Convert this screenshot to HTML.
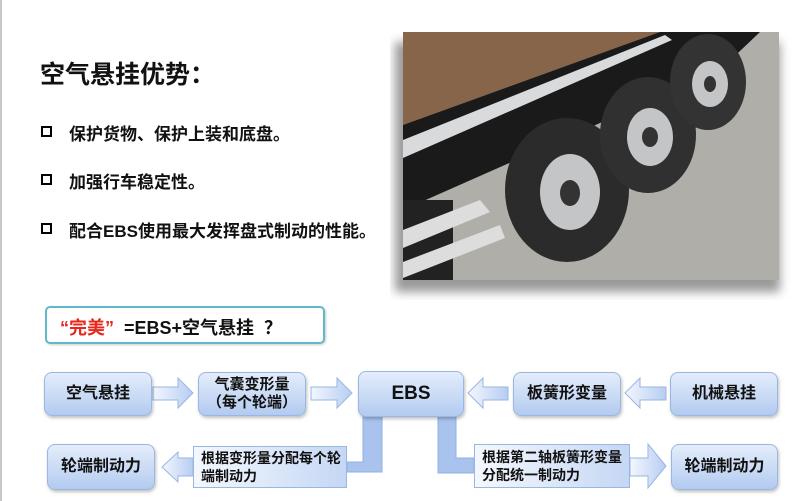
<!DOCTYPE html>
<html><head><meta charset="utf-8"><style>
body{margin:0;width:800px;height:501px;background:#fff;position:relative;overflow:hidden;font-family:"Liberation Sans","Noto Sans CJK SC",sans-serif;}
.a{position:absolute;}
.bx{position:absolute;border:1px solid #9ab6e2;border-radius:8px;background:linear-gradient(#e4edfb,#b3cbf0);box-shadow:1px 2px 3px rgba(0,0,0,.25);display:flex;align-items:center;justify-content:center;text-align:center;font-weight:bold;color:#111;font-size:16px;line-height:18px;box-sizing:border-box;}
.t{position:absolute;font-weight:bold;color:#111;white-space:nowrap;}
.sq{position:absolute;width:11px;height:11px;border:2px solid #000;box-sizing:border-box;}
</style></head><body>
<div class="a" style="left:0;top:0;width:2px;height:501px;background:#c8c8c8"></div>
<div class="t" style="left:40px;top:55px;font-size:25px">空气悬挂优势：</div>
<div class="sq" style="left:41px;top:126px"></div><div class="t" style="left:69px;top:120px;font-size:17px">保护货物、保护上装和底盘。</div>
<div class="sq" style="left:41px;top:174px"></div><div class="t" style="left:69px;top:168px;font-size:17px">加强行车稳定性。</div>
<div class="sq" style="left:41px;top:223px"></div><div class="t" style="left:69px;top:217px;font-size:17px">配合EBS使用最大发挥盘式制动的性能。</div>

<svg class="a" style="left:390px;top:20px" width="405" height="280" viewBox="390 20 405 280">
<defs><filter id="f"><feGaussianBlur stdDeviation="5"/></filter>
<clipPath id="c"><rect x="403" y="32" width="376" height="248"/></clipPath></defs>
<rect x="395" y="42" width="385" height="250" fill="#999" filter="url(#f)"/>
<g clip-path="url(#c)">
<rect x="403" y="32" width="376" height="248" fill="#b0aea9"/>
<polygon points="403,32 660,32 403,125" fill="#86654a"/>
<polygon points="403,125 660,32 760,32 720,70 403,210" fill="#1a1a1a"/>
<polygon points="403,140 665,35 672,40 403,158" fill="#d8dadc"/>
<rect x="403" y="200" width="50" height="80" fill="#222"/>
<polygon points="403,230 480,200 490,212 403,248" fill="#ddd"/>
<polygon points="403,262 500,225 505,238 403,278" fill="#ddd"/>
<ellipse cx="567" cy="190" rx="62" ry="72" fill="#2b2b2b"/><ellipse cx="570" cy="192" rx="30" ry="38" fill="#c3c5c7"/><ellipse cx="570" cy="193" rx="10" ry="13" fill="#333"/>
<ellipse cx="648" cy="135" rx="48" ry="58" fill="#303030"/><ellipse cx="650" cy="137" rx="23" ry="29" fill="#c3c5c7"/><ellipse cx="650" cy="137" rx="8" ry="10" fill="#333"/>
<ellipse cx="708" cy="82" rx="38" ry="48" fill="#333"/><ellipse cx="710" cy="84" rx="18" ry="23" fill="#c3c5c7"/><ellipse cx="710" cy="84" rx="6" ry="8" fill="#333"/>
</g></svg>

<div class="a" style="left:45px;top:306px;width:280px;height:38px;border:2px solid #5fb9c9;border-radius:5px;box-sizing:border-box;box-shadow:1px 1px 2px rgba(0,0,0,.2)"></div>
<div class="t" style="left:60px;top:314px;font-size:18px"><span style="color:#e8261c">“完美”</span>&nbsp;&nbsp;=EBS+空气悬挂&nbsp;&nbsp;？</div>

<svg class="a" style="left:0;top:0" width="800" height="501">
<defs><linearGradient id="gl" x1="0" y1="0" x2="1" y2="0"><stop offset="0" stop-color="#f3f7fe"/><stop offset="1" stop-color="#b6cdf2"/></linearGradient></defs>
<g fill="url(#gl)" stroke="#9ab6e2" stroke-width="1">
<polygon points="153,387 178,387 178,378 193,393 178,408 178,400 153,400"/>
<polygon points="311,387 337,387 337,378 352,393 337,408 337,400 311,400"/>
<polygon points="508,387 483,387 483,378 468,393 483,408 483,400 508,400"/>
<polygon points="666,387 640,387 640,378 625,393 640,408 640,400 666,400"/>
<polygon points="193,458 178,458 178,452 162,467 178,482 178,476 193,476"/>
<polygon points="630,458 648,458 648,444 666,466 648,488 648,476 630,476"/>
</g>
<g fill="#a9c3ee" stroke="#8fb0e0">
<polygon points="363,416 382,416 382,472 347,472 347,462 363,462"/>
<polygon points="438,416 456,416 456,458 474,458 474,473 438,473"/>
</g>
</svg>
<div class="bx" style="left:44px;top:372px;width:108px;height:44px">空气悬挂</div>
<div class="bx" style="left:198px;top:372px;width:108px;height:44px;font-size:15px">气囊变形量<br>（每个轮端）</div>
<div class="bx" style="left:358px;top:371px;width:106px;height:46px;font-size:19px">EBS</div>
<div class="bx" style="left:513px;top:372px;width:108px;height:44px">板簧形变量</div>
<div class="bx" style="left:670px;top:372px;width:108px;height:44px">机械悬挂</div>
<div class="bx" style="left:47px;top:444px;width:108px;height:46px">轮端制动力</div>
<div class="bx" style="left:671px;top:444px;width:107px;height:46px">轮端制动力</div>
<div class="bx" style="left:193px;top:446px;width:154px;height:42px;border-radius:0;background:linear-gradient(90deg,#f4f8fe,#c5d7f4);justify-content:flex-start;text-align:left;padding-left:7px;font-size:14px;box-shadow:none">根据变形量分配每个轮<br>端制动力</div>
<div class="bx" style="left:474px;top:444px;width:156px;height:44px;border-radius:0;background:linear-gradient(90deg,#f4f8fe,#c5d7f4);justify-content:flex-start;text-align:left;padding-left:7px;font-size:14px;box-shadow:none">根据第二轴板簧形变量<br>分配统一制动力</div>
</body></html>
